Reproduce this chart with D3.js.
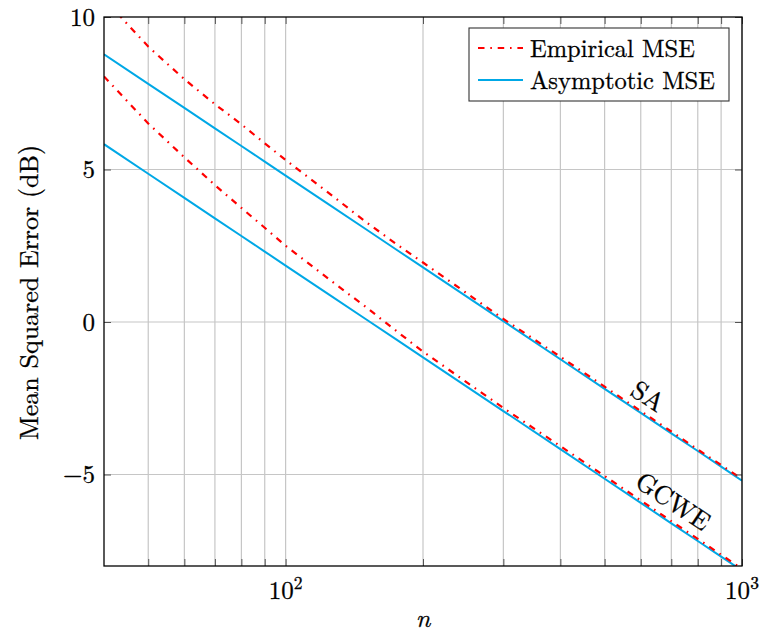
<!DOCTYPE html>
<html>
<head>
<meta charset="utf-8">
<script src="https://cdn.jsdelivr.net/npm/d3@7"></script>
<style>
  html, body { margin: 0; padding: 0; background: #fff; }
</style>
</head>
<body>
<svg id="chart" width="763" height="634"></svg>
<script>
// ---------------- data ----------------
const nValues = [40, 50, 60, 70, 80, 90, 100, 125, 150, 175, 200, 300, 400, 500, 600, 700, 800, 900, 1000];
const empiricalSA   = [10.6, 9.03, 7.96, 7.14, 6.48, 5.86, 5.31, 4.20, 3.28, 2.55, 1.95, 0.10, -1.14, -2.12, -2.92, -3.59, -4.18, -4.69, -5.15];
const asymptoticSA  = [8.78, 7.81, 7.02, 6.35, 5.77, 5.26, 4.80, 3.83, 3.04, 2.37, 1.79, 0.03, -1.22, -2.19, -2.98, -3.65, -4.23, -4.74, -5.20];
const empiricalGCWE = [8.05, 6.51, 5.40, 4.49, 3.74, 3.09, 2.50, 1.38, 0.49, -0.30, -0.97, -2.82, -4.07, -5.05, -5.85, -6.53, -7.11, -7.63, -8.09];
const asymptoticGCWE= [5.83, 4.86, 4.07, 3.40, 2.82, 2.31, 1.85, 0.88, 0.09, -0.58, -1.16, -2.92, -4.17, -5.14, -5.93, -6.60, -7.18, -7.69, -8.15];

const xDomain = [40, 1000];
const yDomain = [-8, 10];
const xMajorTicks = [100, 1000];
const xMajorLabels = [["10", "2"], ["10", "3"]];
const xMinorTicks = [50, 60, 70, 80, 90, 200, 300, 400, 500, 600, 700, 800, 900];
const yTicks = [-5, 0, 5, 10];
const yTickLabels = ["\u22125", "0", "5", "10"];
const legendLabels = ["Empirical MSE", "Asymptotic MSE"];
const curveLabels = [{text: "SA", n: 623, v: -2.43}, {text: "GCWE", n: 707, v: -5.87}];
const xTitle = "n";
const yTitle = "Mean Squared Error (dB)";

// ---------------- layout ----------------
const FONT = "\"Latin Modern Roman\", \"Liberation Serif\", serif";
const L = 104, R = 742, T = 17, B = 566;
const RED = "#ff0000", BLUE = "#00a8e6", GRID = "#c6c6c6";
const DASH = "6.5,5.8,1.6,5.8";

const svg = d3.select("#chart");
const x = d3.scaleLog().domain(xDomain).range([L, R]);
const y = d3.scaleLinear().domain(yDomain).range([B, T]);

const allX = xMinorTicks.concat(xMajorTicks);

// grid
const grid = svg.append("g");
grid.selectAll("line.v").data(allX).join("line")
  .attr("x1", d => x(d)).attr("x2", d => x(d)).attr("y1", T).attr("y2", B)
  .attr("stroke", GRID).attr("stroke-width", 1.2);
grid.selectAll("line.h").data(yTicks.filter(d => d > yDomain[0] && d < yDomain[1])).join("line")
  .attr("x1", L).attr("x2", R).attr("y1", d => y(d)).attr("y2", d => y(d))
  .attr("stroke", GRID).attr("stroke-width", 1.2);

// curves
svg.append("clipPath").attr("id", "clip").append("rect")
  .attr("x", L).attr("y", T).attr("width", R - L).attr("height", B - T);
const plot = svg.append("g").attr("clip-path", "url(#clip)");
const line = vals => d3.line().x((d, i) => x(nValues[i])).y(d => y(d))(vals);

const series = [
  {v: asymptoticSA, c: BLUE, dash: null, w: 2.0},
  {v: asymptoticGCWE, c: BLUE, dash: null, w: 2.0},
  {v: empiricalSA, c: RED, dash: DASH, w: 2.2},
  {v: empiricalGCWE, c: RED, dash: DASH, w: 2.2}
];
series.forEach(s => {
  plot.append("path").attr("d", line(s.v)).attr("fill", "none")
    .attr("stroke", s.c).attr("stroke-width", s.w)
    .attr("stroke-dasharray", s.dash);
});

// axes ticks (inward)
function styleAxis(g) {
  g.select(".domain").remove();
  g.selectAll(".tick text").remove();
  g.selectAll(".tick line").attr("stroke", "#555").attr("stroke-width", 1);
}
svg.append("g").attr("transform", `translate(0,${B})`)
  .call(d3.axisBottom(x).tickValues(allX).tickSize(-7)).call(styleAxis);
svg.append("g").attr("transform", `translate(0,${T})`)
  .call(d3.axisTop(x).tickValues(allX).tickSize(-7)).call(styleAxis);
svg.append("g").attr("transform", `translate(${L},0)`)
  .call(d3.axisLeft(y).tickValues(yTicks).tickSize(-7)).call(styleAxis);
svg.append("g").attr("transform", `translate(${R},0)`)
  .call(d3.axisRight(y).tickValues(yTicks).tickSize(-7)).call(styleAxis);

// frame
svg.append("rect").attr("x", L).attr("y", T).attr("width", R - L).attr("height", B - T)
  .attr("fill", "none").attr("stroke", "#000").attr("stroke-width", 1.3);

// common text style: slightly heavier to mimic the rasterised TeX font
const txt = sel => sel.style("font-family", FONT).attr("fill", "#000")
  .attr("stroke", "#000").attr("stroke-width", 0.3);

// y tick labels
svg.selectAll("text.ytl").data(yTicks).join("text").call(txt)
  .attr("x", L - 9).attr("y", d => y(d) + 8.5)
  .attr("text-anchor", "end").attr("font-size", 25)
  .text((d, i) => yTickLabels[i]);

// x tick labels
xMajorTicks.forEach((d, i) => {
  const t = svg.append("text").call(txt).attr("x", x(d)).attr("y", 599)
    .attr("text-anchor", "middle").attr("font-size", 25);
  t.append("tspan").text(xMajorLabels[i][0]);
  t.append("tspan").attr("dy", -10).attr("font-size", 17.5).text(xMajorLabels[i][1]);
});

// axis titles
svg.append("text").call(txt).attr("x", (L + R) / 2).attr("y", 627)
  .attr("text-anchor", "middle").attr("font-size", 26).attr("font-style", "italic")
  .text(xTitle);
svg.append("text").call(txt)
  .attr("transform", `translate(38,${(T + B) / 2 + 1}) rotate(-90)`)
  .attr("text-anchor", "middle").attr("font-size", 26)
  .text(yTitle);

// curve labels along the lines (centred on the given point)
const ang = Math.atan2(y(-10) - y(0), x(1000) - x(100)) * 180 / Math.PI;
curveLabels.forEach(c => {
  svg.append("text").call(txt)
    .attr("transform", `translate(${x(c.n)},${y(c.v)}) rotate(${ang})`)
    .attr("text-anchor", "middle").attr("dy", "0.35em").attr("font-size", 26)
    .text(c.text);
});

// legend
const lg = svg.append("g");
lg.append("rect").attr("x", 469).attr("y", 28).attr("width", 260).attr("height", 73)
  .attr("fill", "#fff").attr("stroke", "#333").attr("stroke-width", 1.1);
[{c: RED, dash: DASH, w: 2.2}, {c: BLUE, dash: null, w: 2.0}].forEach((s, i) => {
  const cy = 48 + i * 32;
  lg.append("line").attr("x1", 478).attr("x2", 523).attr("y1", cy).attr("y2", cy)
    .attr("stroke", s.c).attr("stroke-width", s.w).attr("stroke-dasharray", s.dash);
  lg.append("text").call(txt).attr("x", 530).attr("y", cy + 8.5).attr("font-size", 24.5)
    .text(legendLabels[i]);
});
</script>
</body>
</html>
